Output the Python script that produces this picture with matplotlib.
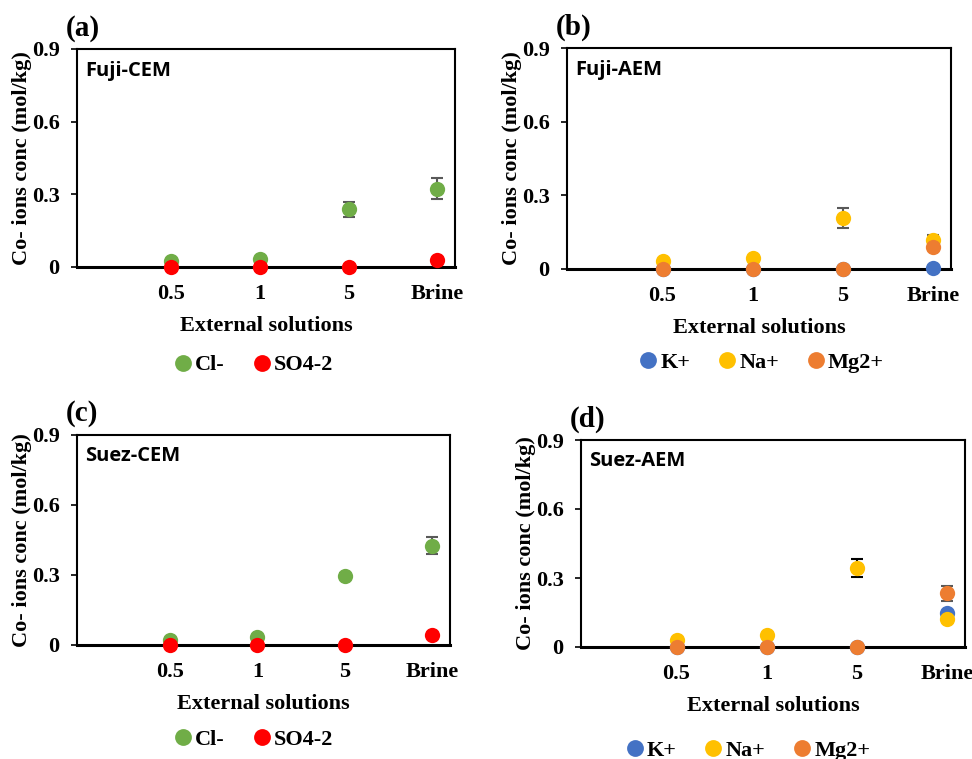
import numpy as np
import matplotlib
matplotlib.use("Agg")
import matplotlib.pyplot as plt

# data
categories = ['0.5', '1', '5', 'Brine']

fuji_cem_cl = [0.025, 0.032, 0.238, 0.324]
fuji_cem_cl_err = [0, 0, 0.031, 0.042]
fuji_cem_so4 = [0, 0, 0, 0.029]

fuji_aem_k = [0, 0, 0, 0.004]
fuji_aem_na = [0.034, 0.045, 0.209, 0.117]
fuji_aem_na_err = [0, 0, 0.041, 0.02]
fuji_aem_mg = [0, 0, 0, 0.091]

suez_cem_cl = [0.023, 0.033, 0.295, 0.426]
suez_cem_cl_err = [0, 0, 0.012, 0.036]
suez_cem_so4 = [0, 0, 0, 0.043]

suez_aem_k = [0, 0, 0, 0.147]
suez_aem_na = [0.030, 0.052, 0.345, 0.123]
suez_aem_na_err = [0, 0, 0.039, 0]
suez_aem_mg = [0, 0, 0, 0.234]
suez_aem_mg_err = [0, 0, 0, 0.032]

green = '#70AD47'
red = '#FF0000'
blue = '#4472C4'
yellow = '#FFC000'
orange = '#ED7D31'
grey = '#595959'

serif = 'Liberation Serif'
sans = 'Open Sans'

W, H = 972, 759
fig = plt.figure(figsize=(W / 100, H / 100), dpi=100)


def make_axes(left, right, top, bottom):
    return fig.add_axes([left / W, (H - bottom) / H, (right - left) / W, (bottom - top) / H])


x = np.arange(1, len(categories) + 1)

panels = [
    # box px, letter, name, series, legend pos
    dict(box=(77, 455, 49, 267), letter='(a)', name='Fuji-CEM',
         series=[('Cl-', fuji_cem_cl, fuji_cem_cl_err, green, grey),
                 ('SO4-2', fuji_cem_so4, None, red, grey)],
         leg=(0.47, -0.45)),
    dict(box=(567, 951, 48, 269), letter='(b)', name='Fuji-AEM',
         series=[('K+', fuji_aem_k, None, blue, grey),
                 ('Na+', fuji_aem_na, fuji_aem_na_err, yellow, grey),
                 ('Mg2+', fuji_aem_mg, None, orange, grey)],
         leg=(0.51, -0.425)),
    dict(box=(77, 450, 435, 645), letter='(c)', name='Suez-CEM',
         series=[('Cl-', suez_cem_cl, suez_cem_cl_err, green, grey),
                 ('SO4-2', suez_cem_so4, None, red, grey)],
         leg=(0.477, -0.452)),
    dict(box=(581, 965, 440, 647), letter='(d)', name='Suez-AEM',
         series=[('K+', suez_aem_k, None, blue, grey),
                 ('Na+', suez_aem_na, suez_aem_na_err, yellow, 'black'),
                 ('Mg2+', suez_aem_mg, suez_aem_mg_err, orange, grey)],
         leg=(0.4375, -0.50)),
]

for p in panels:
    left, right, top, bottom = p['box']
    ax = make_axes(left, right, top, bottom)

    z = 3
    for label, vals, err, color, ecolor in p['series']:
        if err is not None:
            ax.errorbar(x, vals, yerr=err, fmt='none', ecolor=ecolor,
                        elinewidth=1.5, capsize=4.5, capthick=1.5,
                        zorder=z, clip_on=False)
        ax.plot(x, vals, 'o', color=color, markersize=11, label=label,
                zorder=z + 0.5, clip_on=False, markeredgewidth=0)
        z += 1

    ax.set_xlim(-0.06, 4.2)
    ax.set_ylim(0, 0.9)
    ax.set_xticks(x)
    ax.set_xticklabels(categories)
    ax.set_yticks([0, 0.3, 0.6, 0.9])
    ax.set_yticklabels(['0', '0.3', '0.6', '0.9'])
    ax.tick_params(axis='x', length=0, pad=12)
    ax.tick_params(axis='y', direction='out', length=4.5, width=1.2, pad=8)
    for t in ax.get_xticklabels() + ax.get_yticklabels():
        t.set_fontfamily(serif)
        t.set_fontweight('bold')
        t.set_fontsize(16)

    for s in ax.spines.values():
        s.set_linewidth(1.5)
    ax.spines['bottom'].set_linewidth(2.2)

    ax.set_xlabel('External solutions', fontfamily=serif, fontweight='bold',
                  fontsize=16, labelpad=9)

    # y label as figure text so it sits where the reference has it
    fig.text((left - 55) / W, 1 - (top + bottom) / 2 / H, 'Co- ions conc (mol/kg)',
             rotation=90, ha='center', va='center', fontfamily=serif,
             fontweight='bold', fontsize=16)

    fig.text((left - 11) / W, 1 - (top - 21) / H, p['letter'], ha='left', va='center',
             fontfamily=serif, fontweight='bold', fontsize=21)

    ax.text(0.022, 0.9, p['name'], transform=ax.transAxes, ha='left', va='center',
            fontfamily=sans, fontweight='bold', fontsize=14.5)

    ax.legend(loc='center', bbox_to_anchor=p['leg'], ncol=len(p['series']),
              frameon=False, handlelength=0.6, handletextpad=0.25,
              columnspacing=1.35, borderaxespad=0, markerscale=1.1,
              prop={'family': serif, 'weight': 'bold', 'size': 16})

fig.savefig('out.png', dpi=100)
